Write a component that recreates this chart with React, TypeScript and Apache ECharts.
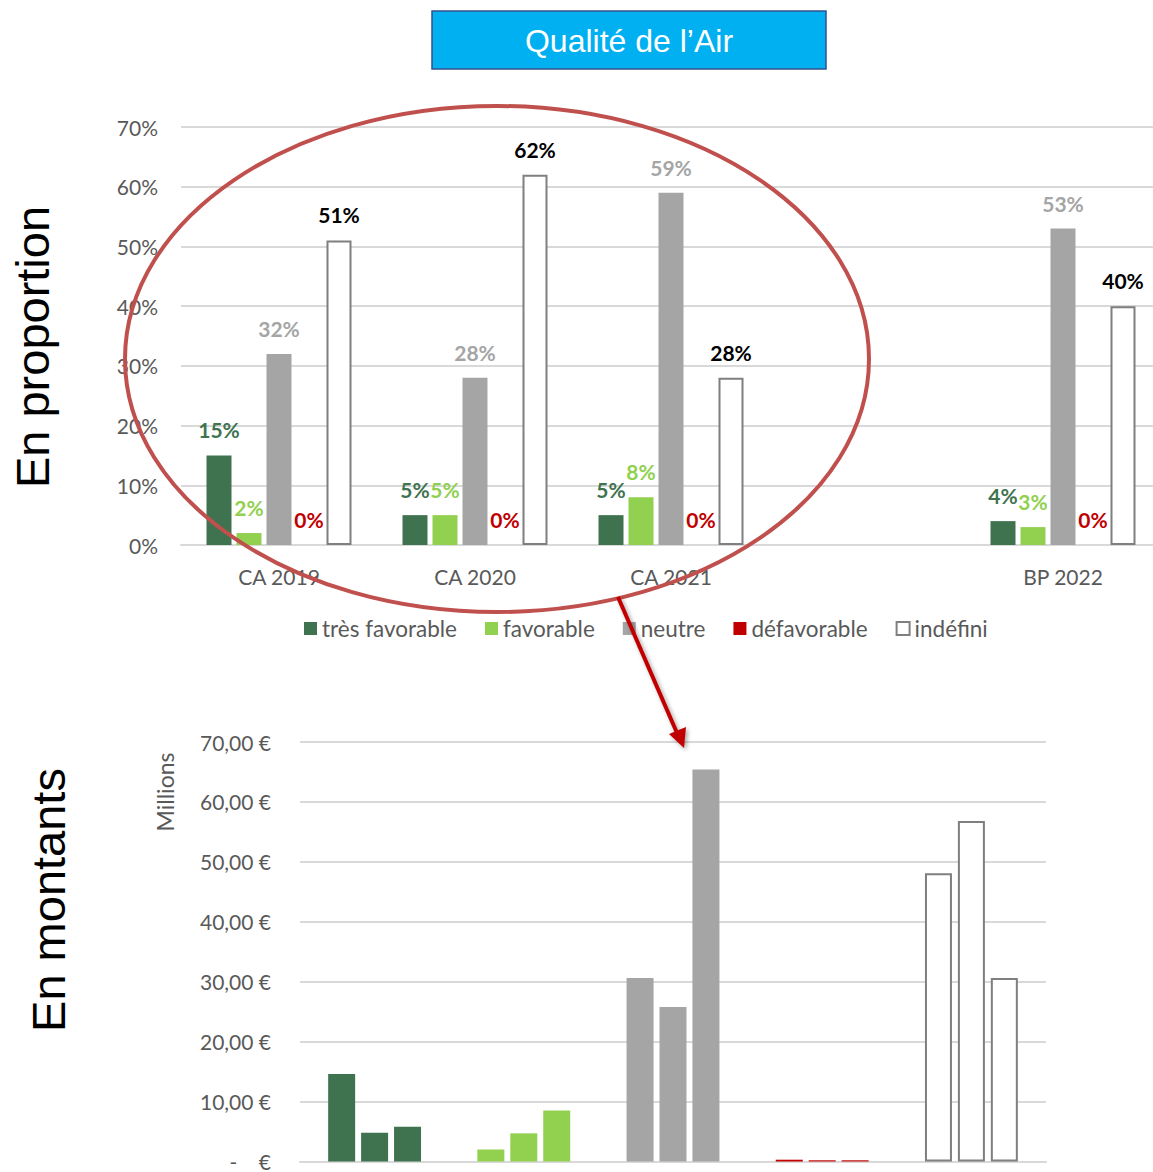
import React, { useEffect, useRef } from "react";
import * as echarts from "echarts";

// ---- Data: top chart (proportions, %) ----
const years = ["CA 2019", "CA 2020", "CA 2021", "", "BP 2022"];
const tresFavorable = [15, 5, 5, null, 4];
const favorable = [2, 5, 8, null, 3];
const neutre = [32, 28, 59, null, 53];
const defavorable = [0, 0, 0, null, 0];
const indefini = [51, 62, 28, null, 40];
const pctTicks = [0, 70, 10]; // min, max, interval

// ---- Data: bottom chart (amounts, millions €) ----
const themes = ["très favorable", "favorable", "neutre", "défavorable", "indéfini"];
const montantYears = ["CA 2019", "CA 2020", "CA 2021"];
const montant2019 = [14.6, 2.0, 30.6, 0.3, 48.1];
const montant2020 = [4.8, 4.7, 25.8, 0.2, 56.8];
const montant2021 = [5.8, 8.5, 65.4, 0.2, 30.6];
const montantTicks = [0, 70, 10];

const COLORS = {
  tres: "#3F7350",
  fav: "#92D050",
  neutre: "#A5A5A5",
  defav: "#C00000",
  indefFill: "#FFFFFF",
  indefBorder: "#7F7F7F",
};
const FONT = "Lato, 'Open Sans', sans-serif";
const AXIS_TXT = "#595959";
const GRID_LINE = "#D9D9D9";

export default function App() {
  const ref = useRef<HTMLDivElement>(null);

  useEffect(() => {
    document.body.style.overflow = "hidden";
    if (!ref.current) return;
    const chart = echarts.init(ref.current, null, { renderer: "svg" });

    const themeStyles = [
      { color: COLORS.tres },
      { color: COLORS.fav },
      { color: COLORS.neutre },
      { color: COLORS.defav },
      { color: COLORS.indefFill, borderColor: COLORS.indefBorder, borderWidth: 2 },
    ];

    const topSeriesDef = [
      { name: "très favorable", data: tresFavorable, style: themeStyles[0], labelColor: COLORS.tres },
      { name: "favorable", data: favorable, style: themeStyles[1], labelColor: COLORS.fav },
      { name: "neutre", data: neutre, style: themeStyles[2], labelColor: COLORS.neutre },
      { name: "défavorable", data: defavorable, style: themeStyles[3], labelColor: COLORS.defav },
      { name: "indéfini", data: indefini, style: themeStyles[4], labelColor: "#000000" },
    ];

    const topSeries = topSeriesDef.map((s) => ({
      name: s.name,
      type: "bar",
      xAxisIndex: 0,
      yAxisIndex: 0,
      data: s.data,
      barWidth: 25,
      barGap: "20%",
      itemStyle: s.style,
      label: {
        show: true,
        position: "top",
        distance: 15,
        formatter: "{c}%",
        color: s.labelColor,
        fontFamily: FONT,
        fontWeight: "bold",
        fontSize: 21,
      },
    }));

    const montantData = [montant2019, montant2020, montant2021];
    const bottomSeries = montantYears.map((y, i) => ({
      name: "montant " + y,
      type: "bar",
      xAxisIndex: 1,
      yAxisIndex: 1,
      barWidth: 27,
      barGap: "22%",
      data: montantData[i].map((v, k) => ({ value: v, itemStyle: themeStyles[k] })),
    }));

    const euroFmt = (v: number) =>
      v === 0 ? "-\u00a0\u00a0\u00a0\u00a0€" : v.toFixed(2).replace(".", ",") + " €";

    chart.setOption({
      animation: false,
      textStyle: { fontFamily: FONT },
      legend: {
        data: topSeriesDef.map((s) => s.name),
        left: 299,
        top: 612,
        itemWidth: 13,
        itemHeight: 13,
        itemGap: 28,
        icon: "rect",
        textStyle: { color: AXIS_TXT, fontSize: 22.5, fontFamily: FONT },
      },
      grid: [
        { left: 181, top: 127, width: 980, height: 418 },
        { left: 300, top: 742, width: 746, height: 420 },
      ],
      xAxis: [
        {
          type: "category",
          gridIndex: 0,
          data: years,
          axisTick: { show: false },
          axisLine: { lineStyle: { color: GRID_LINE, width: 2 } },
          axisLabel: { color: AXIS_TXT, fontSize: 21, fontFamily: FONT, margin: 21 },
        },
        {
          type: "category",
          gridIndex: 1,
          data: themes,
          axisTick: { show: false },
          axisLine: { lineStyle: { color: GRID_LINE, width: 2 } },
          axisLabel: { show: false },
        },
      ],
      yAxis: [
        {
          type: "value",
          gridIndex: 0,
          min: pctTicks[0],
          max: pctTicks[1],
          interval: pctTicks[2],
          axisLabel: { formatter: "{value}%", color: AXIS_TXT, fontSize: 21, fontFamily: FONT, margin: 23 },
          splitLine: { lineStyle: { color: GRID_LINE, width: 2 } },
          axisLine: { show: false },
          axisTick: { show: false },
        },
        {
          type: "value",
          gridIndex: 1,
          min: montantTicks[0],
          max: montantTicks[1],
          interval: montantTicks[2],
          axisLabel: { formatter: euroFmt, color: AXIS_TXT, fontSize: 21, fontFamily: FONT, margin: 29 },
          splitLine: { lineStyle: { color: GRID_LINE, width: 2 } },
          axisLine: { show: false },
          axisTick: { show: false },
        },
      ],
      series: [...topSeries, ...bottomSeries],
      graphic: [
        {
          type: "rect",
          shape: { x: 432, y: 11, width: 394, height: 58 },
          style: { fill: "#00B0F0", stroke: "#2F528F", lineWidth: 1.5 },
        },
        {
          type: "text",
          x: 629,
          y: 41,
          style: {
            text: "Qualité de l’Air",
            fill: "#FFFFFF",
            font: "32px 'Liberation Sans', Arial, sans-serif",
            textAlign: "center",
            textVerticalAlign: "middle",
          },
        },
        {
          type: "text",
          x: 32,
          y: 347,
          rotation: Math.PI / 2,
          style: {
            text: "En proportion",
            fill: "#000000",
            font: "47px 'Liberation Sans', Arial, sans-serif",
            textAlign: "center",
            textVerticalAlign: "middle",
          },
        },
        {
          type: "text",
          x: 48,
          y: 900,
          rotation: Math.PI / 2,
          style: {
            text: "En montants",
            fill: "#000000",
            font: "47px 'Liberation Sans', Arial, sans-serif",
            textAlign: "center",
            textVerticalAlign: "middle",
          },
        },
        {
          type: "text",
          x: 165,
          y: 792,
          rotation: Math.PI / 2,
          style: {
            text: "Millions",
            fill: AXIS_TXT,
            font: "23px Lato, sans-serif",
            textAlign: "center",
            textVerticalAlign: "middle",
          },
        },
        {
          type: "ellipse",
          z: 100,
          shape: { cx: 497, cy: 359, rx: 372, ry: 253 },
          style: { fill: "none", stroke: "#C0504D", lineWidth: 4 },
        },
        {
          type: "line",
          z: 100,
          shape: { x1: 618, y1: 597, x2: 677, y2: 733 },
          style: {
            stroke: "#C00000",
            lineWidth: 4,
            shadowBlur: 4,
            shadowColor: "rgba(0,0,0,0.35)",
            shadowOffsetX: 2,
            shadowOffsetY: 2,
          },
        },
        {
          type: "polygon",
          z: 100,
          shape: {
            points: [
              [684, 748],
              [669, 734],
              [686, 727],
            ],
          },
          style: {
            fill: "#C00000",
            shadowBlur: 4,
            shadowColor: "rgba(0,0,0,0.35)",
            shadowOffsetX: 2,
            shadowOffsetY: 2,
          },
        },
      ],
    });

    return () => chart.dispose();
  }, []);

  return (
    <div
      ref={ref}
      style={{ position: "fixed", left: 0, top: 0, width: 1162, height: 1172, background: "#fff" }}
    />
  );
}
